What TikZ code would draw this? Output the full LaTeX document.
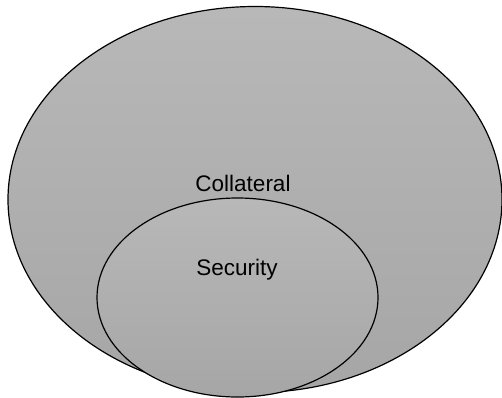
\documentclass[tikz,border=0pt]{standalone}
\usepackage{fontspec}
\setmainfont{Liberation Sans}
\usetikzlibrary{positioning,shapes.geometric}
\definecolor{graytop}{HTML}{B8B8B8}
\definecolor{graymid}{HTML}{BEBEBE}
\definecolor{graybot}{HTML}{A6A6A6}

\begin{document}
\begin{tikzpicture}[x=1pt,y=-1pt,
    setbox/.style={ellipse,draw=black,line width=1.2pt,inner sep=0pt,
        top color=graytop,middle color=graymid,bottom color=graybot},
    setlabel/.style={font=\fontsize{22.5}{26}\selectfont,anchor=base,inner sep=0pt}]
\useasboundingbox (0,0) rectangle (502,397);
\node[setbox,minimum width=494pt,minimum height=386pt] (collateral) at (255,199.5) {};
\node[setbox,minimum width=281pt,minimum height=199pt] (security) at (237.5,297.5) {};
\node[setlabel] (collaterallabel) at (243,191.5) {Collateral};
\node[setlabel] (securitylabel) at (237,275) {Security};
\end{tikzpicture}
\end{document}
